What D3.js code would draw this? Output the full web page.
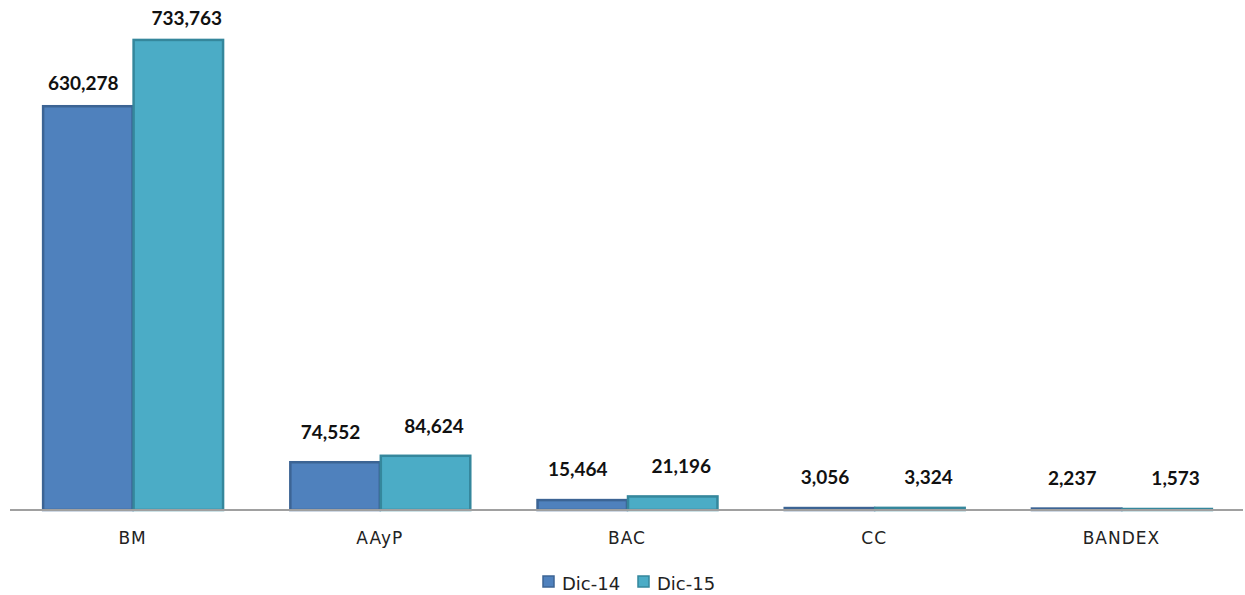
<!DOCTYPE html>
<html>
<head>
<meta charset="utf-8">
<script src="https://cdn.jsdelivr.net/npm/d3@7"></script>
<style>
  html, body { margin: 0; padding: 0; background: #fff; }
  svg { display: block; }
</style>
</head>
<body>
<svg id="chart" width="1245" height="595"></svg>
<script>
// Categories and series values
const categories = ["BM", "AAyP", "BAC", "CC", "BANDEX"];
const seriesNames = ["Dic-14", "Dic-15"];
const dic14 = [630278, 74552, 15464, 3056, 2237];
const dic15 = [733763, 84624, 21196, 3324, 1573];

const fills = ["#4F81BD", "#4BACC6"];
const strokes = ["#3C6494", "#35879C"];

const svg = d3.select("#chart");
const left = 9, right = 1245, baseY = 510;

const x0 = d3.scaleBand()
  .domain(categories)
  .range([left, right])
  .paddingInner(0.268)
  .paddingOuter(0.134);

const x1 = d3.scaleBand()
  .domain(seriesNames)
  .range([0, x0.bandwidth()])
  .padding(0);

const y = d3.scaleLinear()
  .domain([0, 800000])
  .range([baseY, -2.5]);

const maxVal = d3.max(dic14.concat(dic15));
// value labels sit a little further above the short bars than the tall ones
const labelY = v => {
  const top = y(v);
  const t = (top - y(maxVal)) / (baseY - y(maxVal));
  return top - 15 - 9 * t;
};

const rows = categories.map((c, i) => ({
  cat: c,
  vals: [
    { name: seriesNames[0], v: dic14[i], s: 0 },
    { name: seriesNames[1], v: dic15[i], s: 1 }
  ]
}));

const groups = svg.append("g")
  .selectAll("g")
  .data(rows)
  .join("g")
  .attr("transform", d => `translate(${x0(d.cat)},0)`);

// Bars
groups.selectAll("rect")
  .data(d => d.vals)
  .join("rect")
  .attr("x", d => x1(d.name) + 1)
  .attr("y", d => y(d.v))
  .attr("width", x1.bandwidth() - 1)
  .attr("height", d => Math.max(0, baseY - y(d.v)))
  .attr("fill", d => fills[d.s])
  .attr("stroke", d => strokes[d.s])
  .attr("stroke-width", 2.5);

// Value labels
const fmt = d3.format(",");
groups.selectAll("text.val")
  .data(d => d.vals)
  .join("text")
  .attr("class", "val")
  .attr("x", d => x1(d.name) + x1.bandwidth() / 2 + (d.s === 1 ? 9 : -4))
  .attr("y", d => labelY(d.v))
  .attr("text-anchor", "middle")
  .attr("font-family", "Lato, 'DejaVu Sans', sans-serif")
  .attr("font-weight", "bold")
  .attr("font-size", 19)
  .attr("fill", "#111")
  .text(d => fmt(d.v));

// Baseline axis
const axis = d3.axisBottom(x0).tickSize(0).tickPadding(0);
const ax = svg.append("g")
  .attr("transform", `translate(0,${baseY})`)
  .call(axis);
ax.select(".domain")
  .attr("d", `M10,0H1243`)
  .attr("stroke", "#A0A0A0")
  .attr("stroke-width", 2);
ax.selectAll(".tick text")
  .attr("y", 34)
  .attr("dy", 0)
  .attr("font-family", "'DejaVu Sans', sans-serif")
  .attr("font-size", 17)
  .attr("letter-spacing", 1)
  .attr("fill", "#222");

// Legend
const legend = svg.append("g");
const legendItems = [
  { name: seriesNames[0], s: 0, x: 543 },
  { name: seriesNames[1], s: 1, x: 638 }
];
const li = legend.selectAll("g")
  .data(legendItems)
  .join("g")
  .attr("transform", d => `translate(${d.x},576)`);
li.append("rect")
  .attr("width", 11).attr("height", 11)
  .attr("fill", d => fills[d.s])
  .attr("stroke", d => strokes[d.s])
  .attr("stroke-width", 1.5);
li.append("text")
  .attr("x", 19)
  .attr("y", 14)
  .attr("font-family", "'DejaVu Sans', sans-serif")
  .attr("font-size", 18)
  .attr("fill", "#222")
  .text(d => d.name);
</script>
</body>
</html>
